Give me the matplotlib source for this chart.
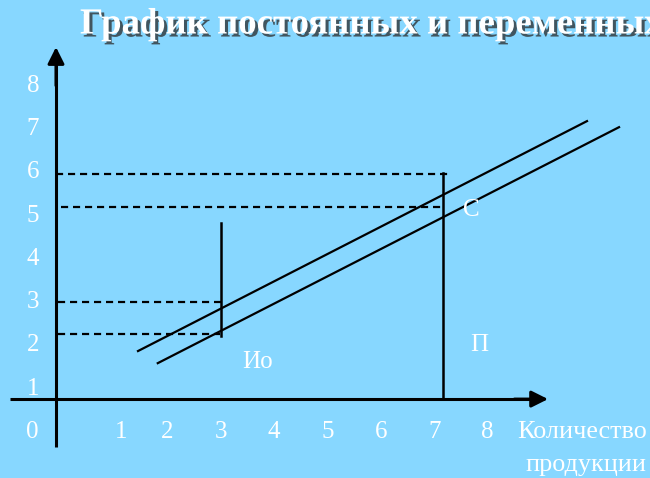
import matplotlib.pyplot as plt
import matplotlib.patheffects as pe

BG = "#87D7FF"
FONT = "Liberation Serif"

# axis ticks (label text and where the label sits)
x_ticks = ["0", "1", "2", "3", "4", "5", "6", "7", "8"]
x_tick_pos = [-0.53, 1.13, 2, 3, 4, 5, 6, 7, 8]
y_ticks = ["0", "1", "2", "3", "4", "5", "6", "7", "8"]
y_tick_pos = [0, 1, 2, 3, 4, 5, 6, 7, 8]

# the two cost lines
upper_x = [1.45, 9.86]
upper_y = [1.87, 7.18]
lower_x = [1.82, 10.46]
lower_y = [1.59, 7.04]

# vertical markers: x, y from, y to
verticals = [(3.00, 2.22, 4.83), (7.16, 0.76, 5.98)]

# dashed guides: y, x from, x to
dashed = [(5.96, -0.08, 7.27), (5.20, 0.01, 7.20), (3.00, -0.05, 3.06), (2.26, -0.05, 2.99)]

labels = [("С", 7.70, 5.13), ("Ио", 3.68, 1.62), ("П", 7.85, 2.01)]

fig = plt.figure(figsize=(6.5, 4.78), dpi=100)
fig.patch.set_facecolor(BG)
ax = fig.add_axes([0, 0, 1, 1])
ax.set_facecolor(BG)
ax.set_xlim(-1.135, 11.04)
ax.set_ylim(-1.062, 9.977)
ax.axis("off")

arrow = dict(arrowstyle="-|>,head_length=0.4,head_width=0.2", lw=2.2, color="black",
             mutation_scale=25, shrinkA=0, shrinkB=0)
# y axis (drawn down below the x axis)
ax.plot([-0.086, -0.086], [-0.35, 8.5], color="black", lw=2.2, solid_capstyle="butt")
ax.annotate("", xy=(-0.086, 8.89), xytext=(-0.086, 8.0), arrowprops=arrow)
# x axis
ax.plot([-0.948, 8.8], [0.76, 0.76], color="black", lw=2.2, solid_capstyle="butt")
ax.annotate("", xy=(9.13, 0.76), xytext=(8.5, 0.76), arrowprops=arrow)

ax.plot(upper_x, upper_y, color="black", lw=1.6)
ax.plot(lower_x, lower_y, color="black", lw=1.6)

for x, y0, y1 in verticals:
    ax.plot([x, x], [y0, y1], color="black", lw=1.8)

for y, x0, x1 in dashed:
    ax.plot([x0, x1], [y, y], color="black", lw=1.6, linestyle=(0, (3.2, 2.2)))

for t, x in zip(x_ticks, x_tick_pos):
    ax.text(x, 0, t, color="white", fontsize=18, family=FONT, ha="center", va="center")
for t, y in zip(y_ticks[1:], y_tick_pos[1:]):
    ax.text(-0.52, y, t, color="white", fontsize=18, family=FONT, ha="center", va="center")

for t, x, y in labels:
    ax.text(x, y, t, color="white", fontsize=18, family=FONT, ha="center", va="center")

ax.text(10.98, 0, "Количество", color="white", fontsize=18.8, family=FONT, ha="right", va="center")
ax.text(10.98, -0.76, "продукции", color="white", fontsize=18.8, family=FONT, ha="right", va="center")

fig.text(80 / 650, 1 - 24 / 478, "График постоянных и переменных издержек", color="white",
         fontsize=26.5, fontweight="bold", family=FONT, ha="left", va="center",
         path_effects=[pe.withSimplePatchShadow(offset=(2.2, -2.2), shadow_rgbFace="#2a2a2a", alpha=0.75)])

fig.savefig("out.png", dpi=100, facecolor=BG)
